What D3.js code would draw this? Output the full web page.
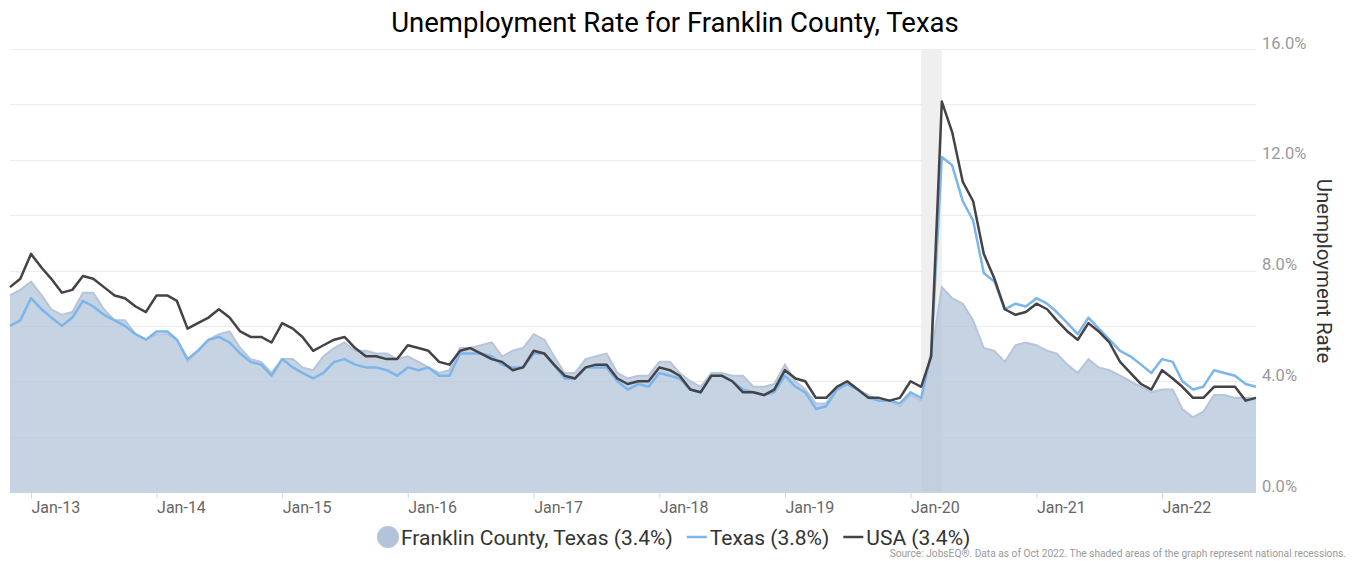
<!DOCTYPE html>
<html>
<head>
<meta charset="utf-8">
<script src="https://cdn.jsdelivr.net/npm/d3@7"></script>
<style>
  body { margin: 0; background: #fff; }
  svg text { font-family: Roboto, "Noto Sans", sans-serif; }
</style>
</head>
<body>
<div id="chart"></div>
<script>
// monthly data, Nov 2012 .. Oct 2022
const firstMonth = new Date(2012, 10, 1);
const lastMonth = new Date(2022, 9, 1);
const months = d3.timeMonth.range(firstMonth, d3.timeMonth.offset(lastMonth, 1));

const franklin = [
  7.1, 7.3, 7.6, 7.1, 6.6, 6.4, 6.5, 7.2, 7.2, 6.6, 6.2, 6.2, 5.7, 5.5, 5.7, 5.7, 5.5,
  4.7, 5.1, 5.5, 5.7, 5.8, 5.2, 4.8, 4.7, 4.3, 4.8, 4.8, 4.5, 4.4, 4.9, 5.2, 5.4, 5.1,
  5.1, 5.0, 5.0, 4.8, 4.9, 4.7, 4.5, 4.3, 4.4, 5.2, 5.2, 5.3, 5.4, 4.9, 5.1, 5.2,
  5.7, 5.5, 4.9, 4.3, 4.3, 4.8, 4.9, 5.0, 4.3, 4.1, 4.2, 4.2, 4.7, 4.7, 4.3, 4.0, 3.8,
  4.3, 4.3, 4.2, 4.2, 3.8, 3.8, 3.9, 4.6, 4.0, 3.7, 3.2, 3.2, 3.8, 3.9, 3.7, 3.5, 3.3, 3.3, 3.1, 3.5, 3.3, 4.9,
  7.4, 7.0, 6.8, 6.2, 5.2, 5.1, 4.7, 5.3, 5.4, 5.3, 5.1, 5.0, 4.6, 4.3, 4.8, 4.5, 4.4, 4.2, 4.0, 3.8, 3.6,
  3.7, 3.7, 3.0, 2.7, 2.9, 3.5, 3.5, 3.4, 3.4, 3.4
];
const texas = [
  6.0, 6.2, 7.0, 6.6, 6.3, 6.0, 6.3, 6.9, 6.7, 6.4, 6.2, 6.0, 5.7, 5.5, 5.8, 5.8, 5.5,
  4.8, 5.1, 5.5, 5.6, 5.4, 5.0, 4.7, 4.6, 4.2, 4.8, 4.5, 4.3, 4.1, 4.3, 4.7, 4.8, 4.6,
  4.5, 4.5, 4.4, 4.2, 4.5, 4.4, 4.5, 4.2, 4.2, 5.0, 5.0, 5.0, 4.9, 4.6, 4.5, 4.5,
  5.0, 5.0, 4.6, 4.1, 4.1, 4.5, 4.5, 4.5, 4.0, 3.7, 3.9, 3.8, 4.3, 4.2, 4.1, 3.7, 3.6,
  4.2, 4.2, 4.0, 3.7, 3.6, 3.5, 3.6, 4.2, 3.8, 3.6, 3.0, 3.1, 3.7, 3.9, 3.7, 3.4, 3.3, 3.3, 3.2, 3.6, 3.4, 5.0,
  12.1, 11.8, 10.5, 9.8, 7.9, 7.6, 6.6, 6.8, 6.7, 7.0, 6.8, 6.5, 6.1, 5.7, 6.3, 5.9, 5.5, 5.1, 4.9, 4.6, 4.3,
  4.8, 4.7, 4.0, 3.7, 3.8, 4.4, 4.3, 4.2, 3.9, 3.8
];
const usa = [
  7.4, 7.7, 8.6, 8.1, 7.7, 7.2, 7.3, 7.8, 7.7, 7.4, 7.1, 7.0, 6.7, 6.5, 7.1, 7.1, 6.9,
  5.9, 6.1, 6.3, 6.6, 6.3, 5.8, 5.6, 5.6, 5.4, 6.1, 5.9, 5.6, 5.1, 5.3, 5.5, 5.6, 5.2,
  4.9, 4.9, 4.8, 4.8, 5.3, 5.2, 5.1, 4.7, 4.6, 5.1, 5.2, 5.0, 4.8, 4.7, 4.4, 4.5,
  5.1, 5.0, 4.6, 4.2, 4.1, 4.5, 4.6, 4.6, 4.1, 3.9, 4.0, 4.0, 4.5, 4.4, 4.2, 3.7, 3.6,
  4.2, 4.2, 4.0, 3.6, 3.6, 3.5, 3.7, 4.4, 4.1, 4.0, 3.4, 3.4, 3.8, 4.0, 3.7, 3.4, 3.4, 3.3, 3.4, 4.0, 3.8, 4.9,
  14.1, 13.0, 11.2, 10.5, 8.6, 7.7, 6.6, 6.4, 6.5, 6.8, 6.6, 6.2, 5.8, 5.5, 6.1, 5.8, 5.4, 4.7, 4.3, 3.9, 3.7,
  4.4, 4.1, 3.8, 3.4, 3.4, 3.8, 3.8, 3.8, 3.3, 3.4
];
const recessions = [[new Date(2020, 1, 1), new Date(2020, 3, 1)]];
const yTicks = [0, 2, 4, 6, 8, 10, 12, 14, 16];
const yLabelTicks = [0, 4, 8, 12, 16];
const legendItems = [
  {name: "Franklin County, Texas (3.4%)", type: "area"},
  {name: "Texas (3.8%)", type: "line", color: "#7cb5ec"},
  {name: "USA (3.4%)", type: "line", color: "#434348"}
];

const W = 1356, H = 561;
const plotLeft = 10, plotRight = 1256, plotTop = 49, plotBottom = 492;

const svg = d3.select("#chart").append("svg")
  .attr("width", W).attr("height", H);

const x = d3.scaleTime().domain([firstMonth, lastMonth]).range([plotLeft, plotRight]);
const y = d3.scaleLinear().domain([0, 16]).range([plotBottom, plotTop]);

// title
svg.append("text")
  .attr("x", 675).attr("y", 32)
  .attr("text-anchor", "middle")
  .attr("font-size", "27.5px")
  .attr("fill", "#000")
  .text("Unemployment Rate for Franklin County, Texas");

// grid
svg.append("g").selectAll("line")
  .data(yTicks.filter(d => d > 0))
  .enter().append("line")
  .attr("x1", plotLeft).attr("x2", plotRight)
  .attr("y1", d => Math.round(y(d)) + 0.5).attr("y2", d => Math.round(y(d)) + 0.5)
  .attr("stroke", "#ececec").attr("stroke-width", 1);

// recession band (behind the series)
svg.append("g").selectAll("rect")
  .data(recessions)
  .enter().append("rect")
  .attr("x", d => x(d[0]))
  .attr("width", d => x(d[1]) - x(d[0]))
  .attr("y", plotTop).attr("height", plotBottom - plotTop)
  .attr("fill", "#efefef");

// area series
const area = d3.area()
  .x((d, i) => x(months[i]))
  .y0(y(0))
  .y1(d => y(d));
const lineOf = d3.line()
  .x((d, i) => x(months[i]))
  .y(d => y(d));

svg.append("path")
  .datum(franklin)
  .attr("d", area)
  .attr("fill", "rgb(179,196,218)")
  .attr("fill-opacity", 0.75);
svg.append("path")
  .datum(franklin)
  .attr("d", lineOf)
  .attr("fill", "none")
  .attr("stroke", "#b6c5d9")
  .attr("stroke-width", 2);

svg.append("path")
  .datum(texas)
  .attr("d", lineOf)
  .attr("fill", "none")
  .attr("stroke", "#7cb5ec")
  .attr("stroke-width", 2.5)
  .attr("stroke-linejoin", "round");

svg.append("path")
  .datum(usa)
  .attr("d", lineOf)
  .attr("fill", "none")
  .attr("stroke", "#434348")
  .attr("stroke-width", 2.5)
  .attr("stroke-linejoin", "round");

// x axis
const xAxis = d3.axisBottom(x)
  .ticks(d3.timeYear.every(1))
  .tickFormat(d3.timeFormat("Jan-%y"))
  .tickSizeOuter(0)
  .tickSize(6);
const gx = svg.append("g")
  .attr("transform", `translate(0,${plotBottom + 0.5})`)
  .call(xAxis);
gx.select(".domain").attr("stroke", "#ccd6eb").attr("d", `M${plotLeft},0H${plotRight}`);
gx.selectAll(".tick line").attr("stroke", "#ccd6eb");
gx.selectAll(".tick text")
  .attr("text-anchor", "start")
  .attr("x", 0).attr("y", 9)
  .attr("font-size", "16px")
  .attr("fill", "#666");

// y axis on the right
const yAxis = d3.axisRight(y)
  .tickValues(yLabelTicks)
  .tickFormat(d => d.toFixed(1) + "%")
  .tickSize(0);
const gy = svg.append("g")
  .attr("transform", `translate(${plotRight + 6},0)`)
  .call(yAxis);
gy.select(".domain").remove();
gy.selectAll(".tick text")
  .attr("x", 0).attr("dy", "-0.05em")
  .attr("font-size", "16.5px")
  .attr("fill", "#999");

svg.append("text")
  .attr("transform", `translate(1317,271) rotate(90)`)
  .attr("text-anchor", "middle")
  .attr("font-size", "20.5px")
  .attr("fill", "#333")
  .text("Unemployment Rate");

// legend
const legend = svg.append("g").attr("transform", "translate(0,545)");
let lx = 377;
legendItems.forEach(item => {
  if (item.type === "area") {
    legend.append("circle")
      .attr("cx", lx + 11).attr("cy", -8).attr("r", 11)
      .attr("fill", "#b3c3d9");
    lx += 24;
  } else {
    legend.append("line")
      .attr("x1", lx).attr("x2", lx + 20)
      .attr("y1", -8).attr("y2", -8)
      .attr("stroke", item.color).attr("stroke-width", 2.5);
    lx += 23;
  }
  const t = legend.append("text")
    .attr("x", lx).attr("y", 0)
    .attr("font-size", "21px")
    .attr("fill", "#333")
    .text(item.name);
  lx += t.node().getComputedTextLength() + 14;
});

svg.append("text")
  .attr("x", 1346).attr("y", 557)
  .attr("text-anchor", "end")
  .attr("font-size", "10.2px")
  .attr("fill", "#999")
  .text("Source: JobsEQ\u00AE. Data as of Oct 2022. The shaded areas of the graph represent national recessions.");
</script>
</body>
</html>
